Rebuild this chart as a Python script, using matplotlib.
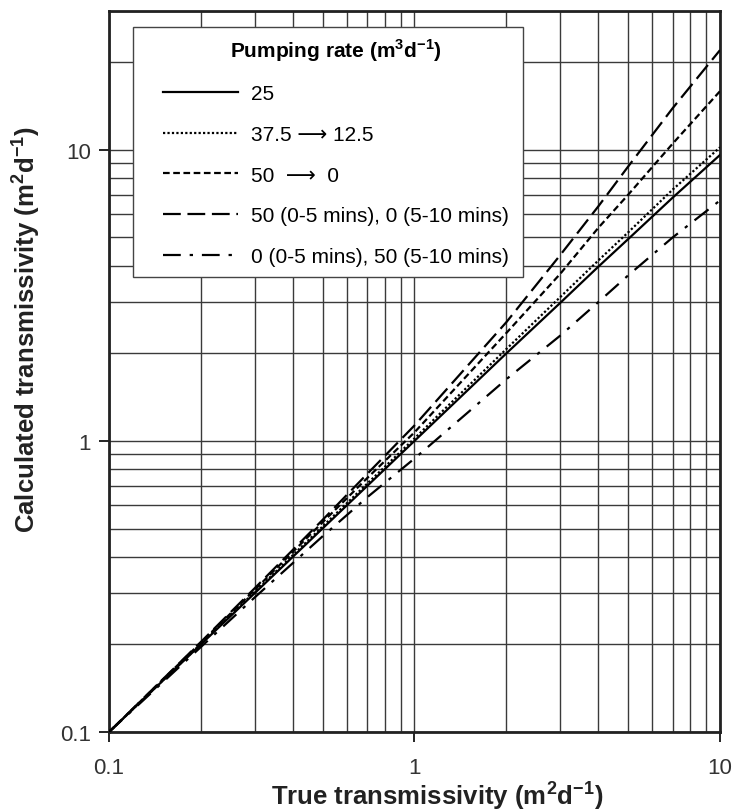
import matplotlib
matplotlib.use("Agg")
import matplotlib.pyplot as plt
from matplotlib.patches import Rectangle
from matplotlib.ticker import FixedLocator, NullFormatter

plt.rcParams['font.family'] = ['Liberation Sans', 'DejaVu Sans']
plt.rcParams['mathtext.fontset'] = 'custom'
plt.rcParams['mathtext.rm'] = 'Liberation Sans'
plt.rcParams['mathtext.bf'] = 'Liberation Sans:bold'

# true transmissivity (m2/d)
true_t = [0.1, 0.2, 0.3, 0.5, 0.7, 1, 2, 3, 4, 5, 7, 10]

# calculated transmissivity for each pumping schedule
calc_25 = [0.1, 0.2, 0.3, 0.5, 0.7, 1.0, 2.0, 2.98, 3.97, 4.93, 6.85, 9.6]
calc_375_125 = [0.1, 0.201, 0.303, 0.508, 0.713, 1.02, 2.07, 3.12, 4.17, 5.2, 7.3, 10.2]
calc_50_0 = [0.1, 0.203, 0.308, 0.525, 0.745, 1.07, 2.35, 3.75, 5.4, 7.0, 10.5, 15.9]
calc_50_then_0 = [0.1, 0.204, 0.312, 0.535, 0.77, 1.13, 2.56, 4.35, 6.4, 8.75, 13.9, 22.0]
calc_0_then_50 = [0.1, 0.196, 0.29, 0.47, 0.64, 0.87, 1.63, 2.3, 3.0, 3.7, 5.0, 6.7]

labels = ["25", "37.5 \u27f6 12.5", "50  \u27f6  0",
          "50 (0-5 mins), 0 (5-10 mins)", "0 (0-5 mins), 50 (5-10 mins)"]
styles = ['-', (0, (1, 1)), (0, (3, 1.6)), (0, (8, 3)), (0, (8, 4, 1.5, 4))]
series = [calc_25, calc_375_125, calc_50_0, calc_50_then_0, calc_0_then_50]

fig = plt.figure(figsize=(7.34, 8.12), dpi=100)
ax = fig.add_axes([0.1485, 0.0973, 0.8324, 0.888])

for ys, ls, lab in zip(series, styles, labels):
    ax.plot(true_t, ys, color='black', linestyle=ls, linewidth=1.6, label=lab, zorder=3)

ax.set_xscale('log')
ax.set_yscale('log')
ax.set_xlim(0.1, 10)
ax.set_ylim(0.1, 30)

ax.xaxis.set_major_locator(FixedLocator([0.1, 1, 10]))
ax.yaxis.set_major_locator(FixedLocator([0.1, 1, 10]))
ax.set_xticklabels(['0.1', '1', '10'])
ax.set_yticklabels(['0.1', '1', '10'])
ax.xaxis.set_minor_formatter(NullFormatter())
ax.yaxis.set_minor_formatter(NullFormatter())
ax.tick_params(which='major', direction='out', length=7, width=1.2,
               labelsize=16, labelcolor='#333333')
ax.tick_params(axis='x', pad=11)
ax.tick_params(axis='y', pad=6)
ax.tick_params(which='minor', length=0)

ax.grid(True, which='both', color='#3a3a3a', linewidth=1.0)
ax.set_axisbelow(True)
for sp in ax.spines.values():
    sp.set_linewidth(2)
    sp.set_color('#222222')

ax.set_xlabel(r'True transmissivity (m$^\mathbf{2}$d$^\mathbf{-1}$)', fontsize=18.5,
              fontweight='bold', color='#222222', va='baseline')
ax.xaxis.set_label_coords(0.537, -0.1)
ax.set_ylabel(r'Calculated transmissivity (m$^\mathbf{2}$d$^\mathbf{-1}$)', fontsize=18.5,
              fontweight='bold', color='#222222')
ax.yaxis.set_label_coords(-0.11, 0.559)

# legend box drawn as a plain square frame, legend entries placed inside
ax.add_patch(Rectangle((0.0393, 0.631), 0.6383, 0.347, transform=ax.transAxes,
                       facecolor='white', edgecolor='#444444', linewidth=1.0, zorder=4))
leg = ax.legend(loc='upper left', bbox_to_anchor=(0.0884, 0.965), borderaxespad=0,
                fontsize=15, title=r'Pumping rate (m$^\mathbf{3}$d$^\mathbf{-1}$)',
                title_fontproperties={'weight': 'bold', 'size': 15},
                frameon=False, handlelength=3.6, labelspacing=1.04, borderpad=0,
                handletextpad=0.6)
leg.set_zorder(5)

fig.savefig('out.png', dpi=100)
